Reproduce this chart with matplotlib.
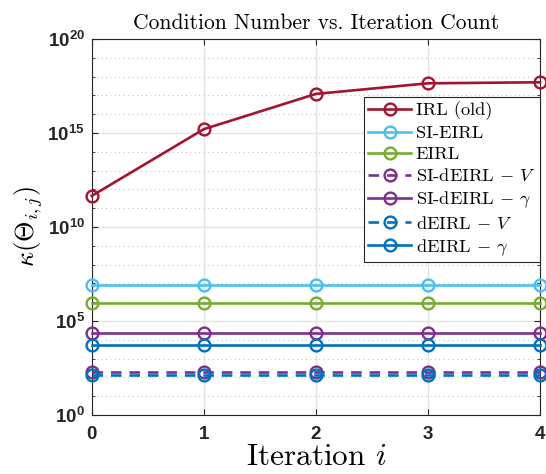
import matplotlib
matplotlib.use("Agg")
import matplotlib.pyplot as plt
from matplotlib.font_manager import FontProperties
from matplotlib.ticker import FixedLocator, NullFormatter, LogFormatterSciNotation
import numpy as np

# bold sans for tick labels (MATLAB style), cm for math in title/labels/legend
plt.rcParams['mathtext.fontset'] = 'custom'
plt.rcParams['mathtext.rm'] = 'Liberation Sans:bold'
plt.rcParams['mathtext.it'] = 'Liberation Sans:bold'
plt.rcParams['mathtext.bf'] = 'Liberation Sans:bold'
plt.rcParams['font.family'] = 'Liberation Sans'
plt.rcParams['font.weight'] = 'bold'

# data
iters = [0, 1, 2, 3, 4]
irl_old = [4.5e11, 1.6e15, 1.2e17, 4.4e17, 5.0e17]
si_eirl = [8.1e6, 8.1e6, 8.1e6, 8.1e6, 8.1e6]
eirl = [8.7e5, 8.7e5, 8.7e5, 8.7e5, 8.7e5]
si_deirl_v = [200, 200, 200, 200, 200]
si_deirl_gamma = [2.2e4, 2.2e4, 2.2e4, 2.2e4, 2.2e4]
deirl_v = [135, 135, 135, 135, 135]
deirl_gamma = [5.1e3, 5.1e3, 5.1e3, 5.1e3, 5.1e3]

labels = ['IRL (old)', 'SI-EIRL', 'EIRL', 'SI-dEIRL $-$ $V$',
          'SI-dEIRL $-$ $\\gamma$', 'dEIRL $-$ $V$', 'dEIRL $-$ $\\gamma$']
series = [irl_old, si_eirl, eirl, si_deirl_v, si_deirl_gamma, deirl_v, deirl_gamma]
colors = ['#A2142F', '#4DBEEE', '#77AC30', '#7E2F8E', '#7E2F8E', '#0072BD', '#0072BD']
dashed = [False, False, False, True, False, True, False]

fig = plt.figure(figsize=(5.46, 4.74), dpi=100)
ax = fig.add_axes([0.168, 0.1245, 0.821, 0.7932])

for ys, lab, c, d in zip(series, labels, colors, dashed):
    ln, = ax.plot(iters, ys, color=c, lw=1.9, marker='o', ms=8.5,
                  mfc='none', mew=1.7, label=lab, clip_on=False, zorder=3)
    if d:
        ln.set_dashes((4, 3))

ax.set_yscale('log')
ax.set_xlim(0, 4)
ax.set_ylim(1, 1e20)
ax.set_xticks(iters)
ax.yaxis.set_major_locator(FixedLocator([1e0, 1e5, 1e10, 1e15, 1e20]))
ax.yaxis.set_minor_locator(FixedLocator(10.0 ** np.arange(0, 21)))
ax.yaxis.set_major_formatter(LogFormatterSciNotation())
ax.yaxis.set_minor_formatter(NullFormatter())

ax.grid(True, which='major', color='#e3e3e3', lw=1.0, ls='-', zorder=0)
ax.grid(True, which='minor', axis='y', color='#c4c4c4', lw=0.8, ls=(0, (1, 3)), zorder=0)
ax.set_axisbelow(True)

ax.tick_params(which='both', direction='in', top=True, right=True,
               colors='#262626', labelsize=13.5)
ax.tick_params(which='major', length=4.5, width=0.8)
ax.tick_params(which='minor', length=2.5, width=0.6)
ax.tick_params(axis='x', pad=8)
ax.tick_params(axis='y', pad=5)
for s in ax.spines.values():
    s.set_color('#262626')
    s.set_linewidth(0.8)

ax.set_title('Condition Number vs. Iteration Count', family='cmr10',
             fontweight='normal', fontsize=15.5, pad=7, math_fontfamily='cm')
ax.set_xlabel('Iteration $i$', family='cmr10', fontweight='normal',
              fontsize=22.5, labelpad=0, math_fontfamily='cm')
ax.set_ylabel('$\\kappa(\\Theta_{i,j})$', fontsize=19, labelpad=2,
              math_fontfamily='cm')

leg_font = FontProperties(family='cmr10', size=13.2, math_fontfamily='cm')
leg = ax.legend(loc='upper right', bbox_to_anchor=(1.0, 0.8466),
                borderaxespad=0, prop=leg_font, fancybox=False, framealpha=1,
                edgecolor='#262626', handlelength=2.35, handletextpad=0.25,
                labelspacing=0.28, borderpad=0.25)
leg.get_frame().set_linewidth(0.8)

fig.savefig('out.png', dpi=100)
